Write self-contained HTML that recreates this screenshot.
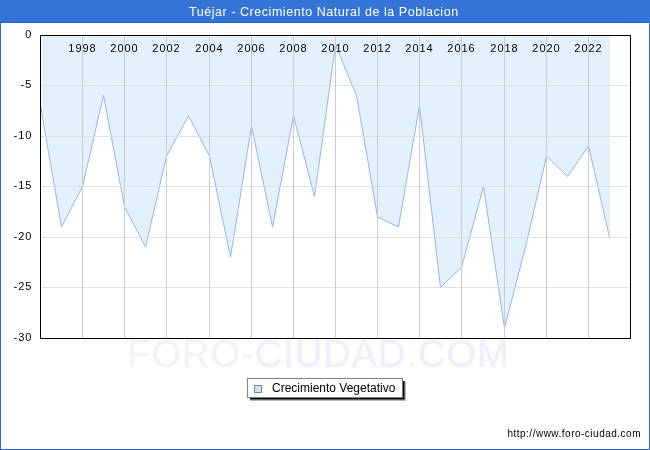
<!DOCTYPE html>
<html><head><meta charset="utf-8"><style>
html,body{margin:0;padding:0;background:#fff;}
svg{display:block;font-family:"Liberation Sans", sans-serif;will-change:transform;}
</style></head><body>
<svg width="650" height="450" viewBox="0 0 650 450">
<rect x="0" y="0" width="1" height="450" fill="#2566d2"/>
<rect x="649" y="0" width="1" height="450" fill="#2566d2"/>
<rect x="0" y="449" width="650" height="1" fill="#2566d2"/>
<rect x="0" y="0" width="650" height="22" fill="#3374d6"/>
<rect x="0" y="22" width="650" height="1" fill="#2566d2"/>
<text x="323.8" y="16" fill="#fff" font-size="12.5" letter-spacing="0.55" text-anchor="middle">Tuéjar - Crecimiento Natural de la Poblacion</text>
<text x="318.5" y="367" font-size="38" letter-spacing="1.0" stroke-width="0.6" text-anchor="middle"><tspan fill="#f3f3f3" stroke="#f3f3f3">FORO-</tspan><tspan fill="#f0f0fd" stroke="#f0f0fd">CIUDAD.COM</tspan></text>
<polygon points="41.5,35.00 41.50,105.70 61.50,226.90 82.50,186.50 103.50,95.60 124.50,206.70 145.50,247.10 166.50,156.20 188.50,115.80 209.50,156.20 230.50,257.20 251.50,125.90 272.50,226.90 293.50,115.80 314.50,196.60 335.50,45.10 356.50,95.60 377.50,216.80 398.50,226.90 419.50,105.70 440.50,287.50 461.50,267.30 483.50,186.50 504.50,327.90 525.50,247.10 546.50,156.20 567.50,176.40 588.50,146.10 610.00,237.00 610.0,35.00" fill="#e3f1fd"/>
<polyline points="40.50,105.70 61.50,226.90 82.50,186.50 103.50,95.60 124.50,206.70 145.50,247.10 166.50,156.20 188.50,115.80 209.50,156.20 230.50,257.20 251.50,125.90 272.50,226.90 293.50,115.80 314.50,196.60 335.50,45.10 356.50,95.60 377.50,216.80 398.50,226.90 419.50,105.70 440.50,287.50 461.50,267.30 483.50,186.50 504.50,327.90 525.50,247.10 546.50,156.20 567.50,176.40 588.50,146.10 609.50,237.00" fill="none" stroke="#8fb5ea" stroke-width="1"/>
<rect x="41" y="85" width="588" height="1" fill="#e0e0e0"/>
<rect x="41" y="136" width="588" height="1" fill="#e0e0e0"/>
<rect x="41" y="186" width="588" height="1" fill="#e0e0e0"/>
<rect x="41" y="237" width="588" height="1" fill="#e0e0e0"/>
<rect x="41" y="287" width="588" height="1" fill="#e0e0e0"/>
<rect x="82" y="36" width="1" height="302" fill="#cccccc"/>
<rect x="124" y="36" width="1" height="302" fill="#cccccc"/>
<rect x="166" y="36" width="1" height="302" fill="#cccccc"/>
<rect x="209" y="36" width="1" height="302" fill="#cccccc"/>
<rect x="251" y="36" width="1" height="302" fill="#cccccc"/>
<rect x="293" y="36" width="1" height="302" fill="#cccccc"/>
<rect x="335" y="36" width="1" height="302" fill="#cccccc"/>
<rect x="377" y="36" width="1" height="302" fill="#cccccc"/>
<rect x="419" y="36" width="1" height="302" fill="#cccccc"/>
<rect x="461" y="36" width="1" height="302" fill="#cccccc"/>
<rect x="504" y="36" width="1" height="302" fill="#cccccc"/>
<rect x="546" y="36" width="1" height="302" fill="#cccccc"/>
<rect x="588" y="36" width="1" height="302" fill="#cccccc"/>
<rect x="40.5" y="35.5" width="590" height="303" fill="none" stroke="#000" stroke-width="1"/>
<text x="82.4" y="52" font-size="11" letter-spacing="0.9" text-anchor="middle" fill="#000">1998</text>
<text x="124.4" y="52" font-size="11" letter-spacing="0.9" text-anchor="middle" fill="#000">2000</text>
<text x="166.4" y="52" font-size="11" letter-spacing="0.9" text-anchor="middle" fill="#000">2002</text>
<text x="209.4" y="52" font-size="11" letter-spacing="0.9" text-anchor="middle" fill="#000">2004</text>
<text x="251.4" y="52" font-size="11" letter-spacing="0.9" text-anchor="middle" fill="#000">2006</text>
<text x="293.4" y="52" font-size="11" letter-spacing="0.9" text-anchor="middle" fill="#000">2008</text>
<text x="335.4" y="52" font-size="11" letter-spacing="0.9" text-anchor="middle" fill="#000">2010</text>
<text x="377.4" y="52" font-size="11" letter-spacing="0.9" text-anchor="middle" fill="#000">2012</text>
<text x="419.4" y="52" font-size="11" letter-spacing="0.9" text-anchor="middle" fill="#000">2014</text>
<text x="461.4" y="52" font-size="11" letter-spacing="0.9" text-anchor="middle" fill="#000">2016</text>
<text x="504.4" y="52" font-size="11" letter-spacing="0.9" text-anchor="middle" fill="#000">2018</text>
<text x="546.4" y="52" font-size="11" letter-spacing="0.9" text-anchor="middle" fill="#000">2020</text>
<text x="588.4" y="52" font-size="11" letter-spacing="0.9" text-anchor="middle" fill="#000">2022</text>
<text x="32.2" y="37.5" font-size="11" letter-spacing="0.9" text-anchor="end" fill="#000">0</text>
<text x="32.2" y="88.0" font-size="11" letter-spacing="0.9" text-anchor="end" fill="#000">-5</text>
<text x="32.2" y="138.5" font-size="11" letter-spacing="0.9" text-anchor="end" fill="#000">-10</text>
<text x="32.2" y="189.0" font-size="11" letter-spacing="0.9" text-anchor="end" fill="#000">-15</text>
<text x="32.2" y="239.5" font-size="11" letter-spacing="0.9" text-anchor="end" fill="#000">-20</text>
<text x="32.2" y="290.0" font-size="11" letter-spacing="0.9" text-anchor="end" fill="#000">-25</text>
<text x="32.2" y="340.5" font-size="11" letter-spacing="0.9" text-anchor="end" fill="#000">-30</text>
<rect x="250" y="381" width="156" height="20" fill="#b8b8b8"/>
<rect x="250" y="381" width="155" height="19" fill="#606060"/>
<rect x="250" y="381" width="154" height="18" fill="#000"/>
<rect x="247.5" y="378.5" width="155" height="19" fill="#fff" stroke="#808080"/>
<rect x="254.5" y="385.5" width="7" height="7" fill="#cce4ff" stroke="#808080"/>
<text x="272" y="392" font-size="12" fill="#000">Crecimiento Vegetativo</text>
<text x="641" y="437" font-size="10" letter-spacing="0.5" text-anchor="end" fill="#000">http://www.foro-ciudad.com</text>
</svg>
</body></html>
